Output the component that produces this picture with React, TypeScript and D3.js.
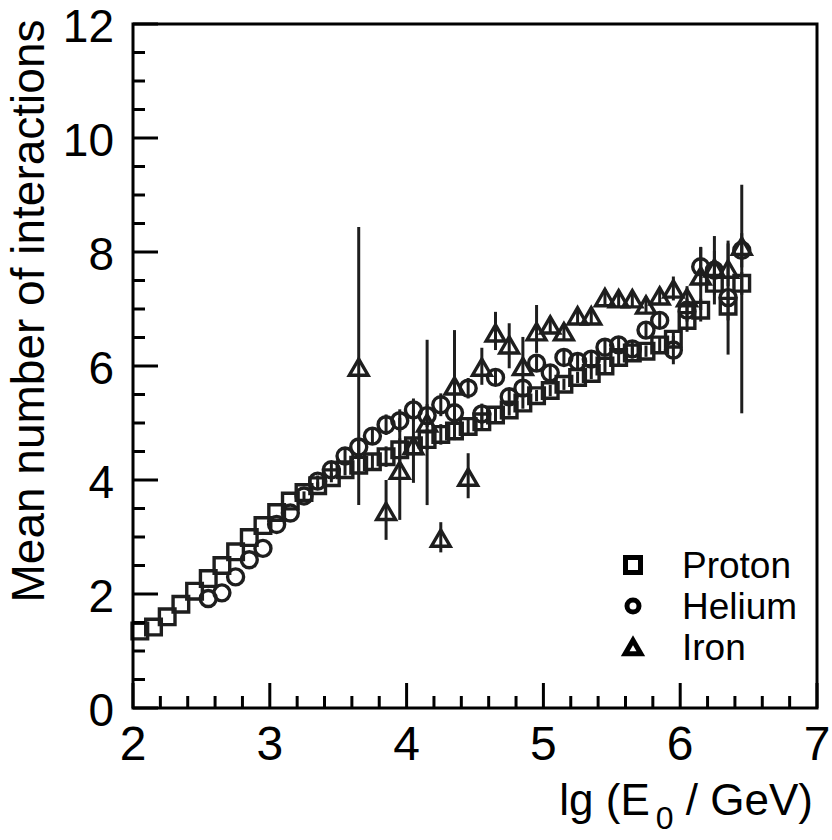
import React from 'react';
import * as d3 from 'd3';

// lg(E0/GeV) bin centres and mean number of interactions per primary
const protonLg = [2.05, 2.15, 2.25, 2.35, 2.45, 2.55, 2.65, 2.75, 2.85, 2.95,
    3.05, 3.15, 3.25, 3.35, 3.45, 3.55, 3.65, 3.75, 3.85, 3.95,
    4.05, 4.15, 4.25, 4.35, 4.45, 4.55, 4.65, 4.75, 4.85, 4.95,
    5.05, 5.15, 5.25, 5.35, 5.45, 5.55, 5.65, 5.75, 5.85, 5.95,
    6.05, 6.15, 6.25, 6.35, 6.45];
const protonMean = [1.35, 1.42, 1.6, 1.82, 2.05, 2.27, 2.5, 2.74, 2.99, 3.2,
    3.43, 3.63, 3.78, 3.9, 4.04, 4.18, 4.26, 4.32, 4.41, 4.53,
    4.6, 4.71, 4.8, 4.86, 4.94, 5.02, 5.14, 5.23, 5.35, 5.48,
    5.57, 5.68, 5.8, 5.87, 6.0, 6.15, 6.23, 6.26, 6.37, 6.47,
    6.8, 6.98, 7.45, 7.05, 7.45];
const protonErr = [0, 0, 0, 0, 0, 0, 0, 0, 0, 0,
    0, 0, 0, 0.06, 0.08, 0.1, 0.14, 0.15, 0.18, 0.2,
    0.18, 0.18, 0.18, 0.15, 0.15, 0.12, 0.12, 0.1, 0.1, 0.1,
    0.1, 0.1, 0.1, 0.1, 0.12, 0.12, 0.1, 0.1, 0.12, 0.15,
    0.2, 0.2, 0.2, 0.25, 0.2];

const heliumLg = [2.55, 2.65, 2.75, 2.85, 2.95,
    3.05, 3.15, 3.25, 3.35, 3.45, 3.55, 3.65, 3.75, 3.85, 3.95,
    4.05, 4.15, 4.25, 4.35, 4.45, 4.55, 4.65, 4.75, 4.85, 4.95,
    5.05, 5.15, 5.25, 5.35, 5.45, 5.55, 5.65, 5.75, 5.85, 5.95,
    6.05, 6.15, 6.25, 6.35, 6.45];
const heliumMean = [1.92, 2.02, 2.3, 2.6, 2.8,
    3.22, 3.42, 3.72, 3.98, 4.18, 4.42, 4.58, 4.77, 4.97, 5.04,
    5.23, 5.13, 5.32, 5.18, 5.61, 5.16, 5.8, 5.46, 5.61, 6.05,
    5.88, 6.15, 6.08, 6.12, 6.33, 6.37, 6.3, 6.63, 6.8, 6.28,
    6.98, 7.74, 7.68, 7.2, 8.03];
const heliumErr = [0, 0, 0, 0, 0,
    0, 0, 0.08, 0.1, 0.12, 0.15, 0.15, 0.15, 0.18, 0.2,
    0.2, 0.2, 0.2, 0.2, 0.18, 0.18, 0.15, 0.15, 0.15, 0.15,
    0.15, 0.15, 0.15, 0.15, 0.15, 0.15, 0.15, 0.15, 0.15, 0.25,
    0.2, 0.35, 0.6, 1.0, 0.3];

const ironLg = [3.65, 3.85, 3.95, 4.05, 4.15, 4.25, 4.35, 4.45, 4.55, 4.65,
    4.75, 4.85, 4.95, 5.05, 5.15, 5.25, 5.35, 5.45, 5.55, 5.65,
    5.75, 5.85, 5.95, 6.05, 6.15, 6.25, 6.35, 6.45];
const ironMean = [5.98, 3.45, 4.17, 4.6, 5.0, 2.98, 5.65, 4.05, 5.98, 6.58,
    6.37, 5.99, 6.6, 6.72, 6.6, 6.88, 6.88, 7.2, 7.18, 7.18,
    7.07, 7.23, 7.35, 7.2, 7.58, 7.72, 7.7, 8.1];
const ironErrLow = [2.42, 0.5, 0.87, 0.65, 1.44, 0.25, 0.95, 0.37, 0.31, 0.3,
    0.41, 0.27, 0.37, 0.15, 0.15, 0.15, 0.15, 0.15, 0.15, 0.15,
    0.15, 0.15, 0.2, 0.2, 0.6, 0.3, 0.3, 2.93];
const ironErrHigh = [2.46, 0.55, 0.92, 0.63, 1.46, 0.28, 0.98, 0.42, 0.34, 0.37,
    0.38, 0.52, 0.47, 0.15, 0.15, 0.15, 0.15, 0.15, 0.15, 0.15,
    0.15, 0.15, 0.22, 0.2, 0.5, 0.3, 0.45, 1.08];

const xLabels = [2, 3, 4, 5, 6, 7];
const yLabels = [0, 2, 4, 6, 8, 10, 12];
const legendNames = ['Proton', 'Helium', 'Iron'];

const width = 832;
const height = 840;
const margin = { top: 24, right: 15, bottom: 132, left: 133 };
const ink = '#1e1e1e';
const font = '"Liberation Sans", Arial, Helvetica, sans-serif';

function markerPath(kind: string, s: number) {
    if (kind === 'square') return `M${-s},${-s}H${s}V${s}H${-s}Z`;
    if (kind === 'circle') return `M${s},0A${s},${s} 0 1,1 ${-s},0A${s},${s} 0 1,1 ${s},0Z`;
    const h = s * 1.8;
    return `M0,${-h / 2}L${h * 0.58},${h / 2}L${-h * 0.58},${h / 2}Z`;
}

export default function App() {
    const x = d3.scaleLinear().domain([2, 7]).range([margin.left, width - margin.right]);
    const y = d3.scaleLinear().domain([0, 12]).range([height - margin.bottom, margin.top]);

    const xTicks = x.ticks(20);
    const yTicks = y.ticks(24);
    const x0 = x(2);
    const y0 = y(0);

    const series = [
        {
            kind: 'square', size: 7.8,
            pts: protonLg.map((lg, i) => ({ lg, v: protonMean[i], lo: protonErr[i], hi: protonErr[i] })),
        },
        {
            kind: 'circle', size: 8,
            pts: heliumLg.map((lg, i) => ({ lg, v: heliumMean[i], lo: heliumErr[i], hi: heliumErr[i] })),
        },
        {
            kind: 'triangle', size: 9,
            pts: ironLg.map((lg, i) => ({ lg, v: ironMean[i], lo: ironErrLow[i], hi: ironErrHigh[i] })),
        },
    ];

    return (
        <svg width={width} height={height} style={{ position: 'absolute', left: 0, top: 0, background: '#fff' }}>
            {/* error bars */}
            {series.map((s, si) => (
                <g key={'e' + si} stroke={ink} strokeWidth={3}>
                    {s.pts.filter((p) => p.lo + p.hi > 0).map((p, i) => (
                        <line key={i} x1={x(p.lg)} x2={x(p.lg)} y1={y(p.v - p.lo)} y2={y(p.v + p.hi)} />
                    ))}
                </g>
            ))}
            {/* markers */}
            {series.map((s, si) => (
                <g key={'m' + si} fill="none" stroke={ink} strokeWidth={3.4}>
                    {s.pts.map((p, i) => (
                        <path key={i} d={markerPath(s.kind, s.size)} transform={`translate(${x(p.lg)},${y(p.v)})`} />
                    ))}
                </g>
            ))}

            {/* frame */}
            <rect x={x0} y={y(12)} width={x(7) - x0} height={y0 - y(12)} fill="none" stroke="#000" strokeWidth={3} />
            {xTicks.map((t) => {
                const major = Math.abs(t * 2 - Math.round(t * 2)) < 1e-6;
                return <line key={'xt' + t} x1={x(t)} x2={x(t)} y1={y0} y2={y0 - (major ? 25 : 12)} stroke="#000" strokeWidth={3} />;
            })}
            {yTicks.map((t) => {
                const major = Math.abs(t / 2 - Math.round(t / 2)) < 1e-6;
                return <line key={'yt' + t} x1={x0} x2={x0 + (major ? 25 : 12)} y1={y(t)} y2={y(t)} stroke="#000" strokeWidth={3} />;
            })}
            {xLabels.map((t) => (
                <text key={'xl' + t} x={x(t)} y={y0 + 52} textAnchor="middle" fontFamily={font} fontSize={48} fill="#000">{t}</text>
            ))}
            {yLabels.map((t) => (
                <text key={'yl' + t} x={x0 - 19} y={y(t) + 18} textAnchor="end" fontFamily={font} fontSize={46} fill="#000">{t}</text>
            ))}

            {/* axis titles */}
            <text x={813} y={815} textAnchor="end" fontFamily={font} fontSize={44} fill="#000">
                lg (E<tspan fontSize={32} dx={6} dy={14}>0</tspan><tspan dy={-14}> / GeV)</tspan>
            </text>
            <text transform="translate(44,311) rotate(-90)" textAnchor="middle" fontFamily={font} fontSize={46} fill="#000">
                Mean number of interactions
            </text>

            {/* legend */}
            {legendNames.map((name, i) => (
                <g key={name} transform={`translate(0,${565 + i * 41})`}>
                    <path d={markerPath(series[i].kind, series[i].kind === 'circle' ? 6 : 7.5)} transform={`translate(633,0)`}
                          fill="none" stroke="#000" strokeWidth={5} />
                    <text x={682} y={13} fontFamily={font} fontSize={37} fill="#000">{name}</text>
                </g>
            ))}
        </svg>
    );
}
